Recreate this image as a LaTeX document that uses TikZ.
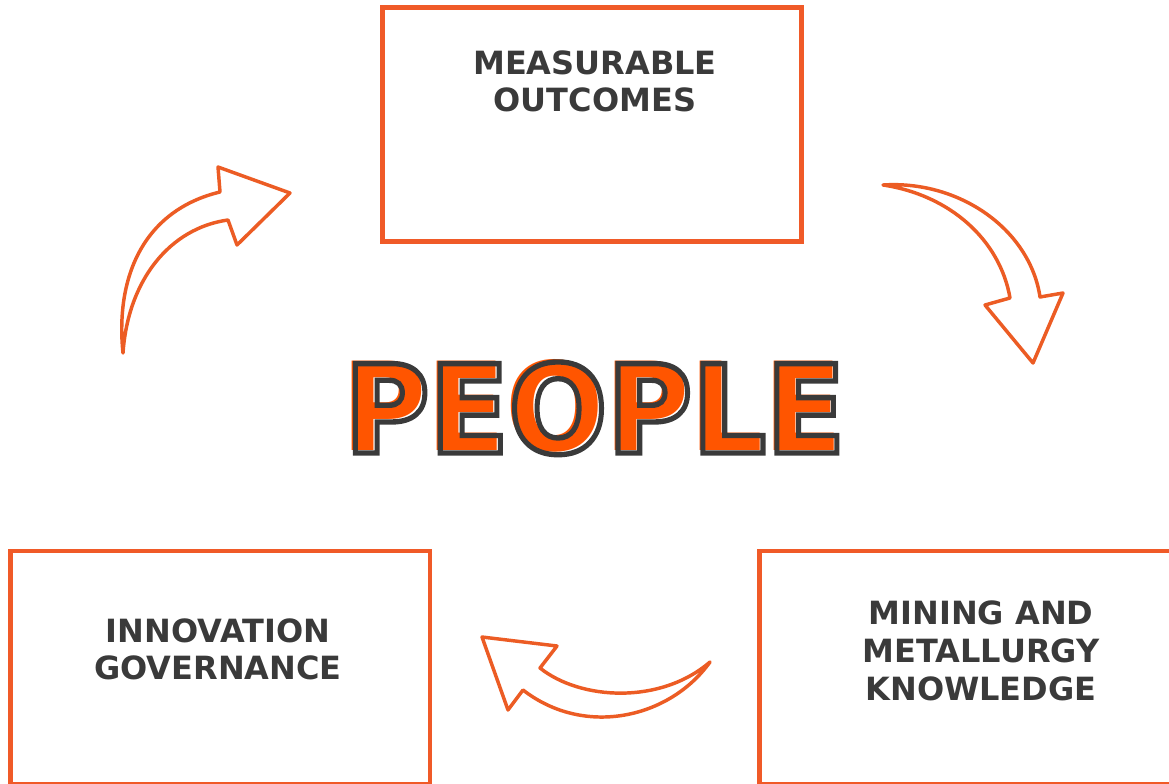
\documentclass[tikz,border=0pt]{standalone}
\usepackage{fontspec}
\usepackage{graphicx}
\setmainfont{DejaVu Sans}
\definecolor{boxor}{HTML}{F05A28}
\definecolor{arrowor}{HTML}{EC5C24}
\definecolor{peopleor}{HTML}{FF5500}
\definecolor{darkg}{HTML}{3A3A3A}
\tikzset{
  framebox/.style={draw=boxor, line width=3.4pt, inner sep=0pt},
  boxtext/.style={text=darkg, font=\bfseries\fontsize{24}{28}\selectfont, align=center, anchor=north, inner sep=0pt},
  hollowarrow/.style={draw=arrowor, line width=2.6pt, line join=round, fill=white}
}
\begin{document}
\begin{tikzpicture}[x=0.75pt, y=-0.75pt]
\useasboundingbox (0,0) rectangle (1169,784);
% boxes
\node[framebox, minimum width=314.25pt, minimum height=175.5pt] (top) at (592,124.5) {};
\node[framebox, minimum width=314.6pt, minimum height=174.75pt] (left) at (220.25,667.5) {};
\node[framebox, minimum width=314.6pt, minimum height=174.75pt] (right) at (969.25,667.5) {};
% texts
\node[boxtext] (toptext) at (595,50) {MEASURABLE\\OUTCOMES};
\node[boxtext] (lefttext) at (218,618) {INNOVATION\\GOVERNANCE};
\node[boxtext, font=\bfseries\fontsize{24}{28.5}\selectfont] (righttext) at (981,600) {MINING AND\\METALLURGY\\KNOWLEDGE};
% arrows
\draw[hollowarrow] (123,353) .. controls (115,275) and (145,210) .. (220,192)
  -- (218,167) -- (290,193) -- (237,245) -- (228,220)
  .. controls (170,228) and (128,280) .. (123,353) -- cycle;
\draw[hollowarrow] (883,185) .. controls (960,180) and (1030,230) .. (1040,297)
  -- (1063,293) -- (1033,363) -- (985,305) -- (1010,298)
  .. controls (1000,240) and (950,195) .. (883,185) -- cycle;
\draw[hollowarrow] (482,637) -- (557,646) -- (540,668)
  .. controls (580,700) and (660,705) .. (710,662)
  .. controls (670,718) and (585,738) .. (523,690) -- (508,710) -- cycle;
% PEOPLE
\node[text=peopleor, anchor=base, inner sep=0pt, font=\bfseries\fontsize{92}{92}\selectfont] (peoplefill) at (592,450) {\scalebox{0.945}[1]{PEOPLE}};
\node[anchor=base, inner sep=0pt, font=\bfseries\fontsize{92}{92}\selectfont] (peopleline) at (595,453) {\scalebox{0.945}[1]{\special{pdf:literal direct 1 Tr 4 w}\textcolor{darkg}{PEOPLE}\special{pdf:literal direct 0 Tr}}};
\end{tikzpicture}
\end{document}
